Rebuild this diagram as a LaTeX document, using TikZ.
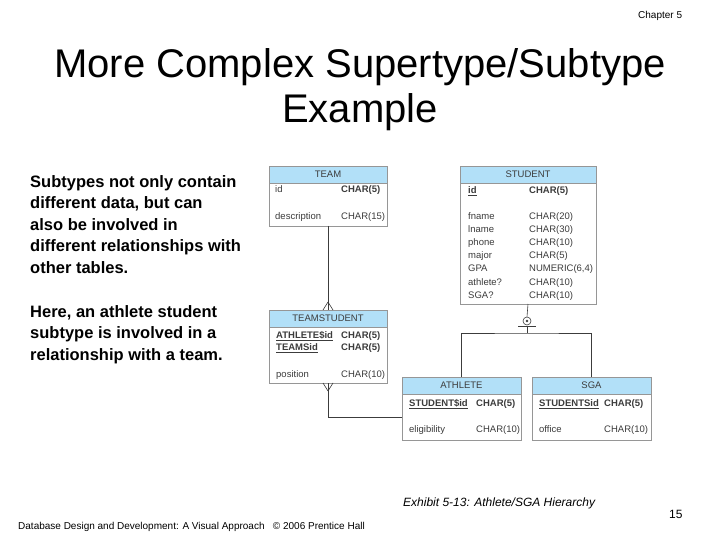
\documentclass[tikz,border=0pt]{standalone}
\usepackage{fontspec}
\setmainfont{Liberation Sans}
\usetikzlibrary{positioning}
\definecolor{hdblue}{RGB}{178,224,248}
\definecolor{edgegray}{RGB}{150,150,150}
\definecolor{txtgray}{RGB}{60,60,60}
\newcommand{\key}[1]{\underline{\textbf{#1}}}

\begin{document}
\begin{tikzpicture}[x=1pt,y=-1pt,
 thead/.style={draw=edgegray,fill=hdblue,anchor=north west,minimum height=17pt,
   inner sep=0pt,outer sep=0pt,text=txtgray,font=\fontsize{9.5}{11}\selectfont},
 tbody/.style={draw=edgegray,fill=white,inner sep=0pt,outer sep=0pt},
 fld/.style={anchor=west,inner sep=0pt,text height=7pt,text depth=2pt,text=txtgray,
   font=\fontsize{9.5}{11}\selectfont},
 link/.style={draw=txtgray,line width=0.6pt},
 para/.style={anchor=north west,inner sep=0pt,align=left,
   font=\fontsize{16.5}{21.5}\bfseries}]
\useasboundingbox (0,0) rectangle (720,540);

% heading and notes
\node[anchor=base west,inner sep=0pt,font=\fontsize{10}{12}\selectfont] (chap) at (638,19) {Chapter 5};
\node[anchor=north,inner sep=0pt,align=center,font=\fontsize{40}{45}\selectfont] (title) at (360,48)
 {More Complex Supertype/Subtype\\Example};
\node[para] (note1) at (30,175) {Subtypes not only contain\\different data, but can\\also be involved in\\
different relationships with\\other tables.};
\node[para] (note2) at (30,305) {Here, an athlete student\\subtype is involved in a\\relationship with a team.};

% tables
\node[thead,minimum width=118pt] (team) at (269,166) {TEAM};
\node[tbody,minimum width=118pt,minimum height=43pt,below=0pt of team] (teamb) {};
\node[fld] (team1) at (275,190) {id};
\node[fld] (team1t) at (341,190) {\textbf{CHAR(5)}};
\node[fld] (team2) at (275,217) {description};
\node[fld] (team2t) at (341,217) {CHAR(15)};

\node[thead,minimum width=136pt] (stud) at (460,166) {STUDENT};
\node[tbody,minimum width=136pt,minimum height=121pt,below=0pt of stud] (studb) {};
\node[fld] (stud1) at (468,191) {\key{id}};
\node[fld] (stud1t) at (529,191) {\textbf{CHAR(5)}};
\node[fld] (stud2) at (468,217) {fname};
\node[fld] (stud2t) at (529,217) {CHAR(20)};
\node[fld] (stud3) at (468,230) {lname};
\node[fld] (stud3t) at (529,230) {CHAR(30)};
\node[fld] (stud4) at (468,243) {phone};
\node[fld] (stud4t) at (529,243) {CHAR(10)};
\node[fld] (stud5) at (468,256) {major};
\node[fld] (stud5t) at (529,256) {CHAR(5)};
\node[fld] (stud6) at (468,269) {GPA};
\node[fld] (stud6t) at (529,269) {NUMERIC(6,4)};
\node[fld] (stud7) at (468,283) {athlete?};
\node[fld] (stud7t) at (529,283) {CHAR(10)};
\node[fld] (stud8) at (468,296) {SGA?};
\node[fld] (stud8t) at (529,296) {CHAR(10)};

\node[thead,minimum width=118pt] (tst) at (269,310) {TEAMSTUDENT};
\node[tbody,minimum width=118pt,minimum height=56pt,below=0pt of tst] (tstb) {};
\node[fld] (tst1) at (276,336) {\key{ATHLETE\$id}};
\node[fld] (tst1t) at (341,336) {\textbf{CHAR(5)}};
\node[fld] (tst2) at (276,348) {\key{TEAMSid}};
\node[fld] (tst2t) at (341,348) {\textbf{CHAR(5)}};
\node[fld] (tst3) at (276,375) {position};
\node[fld] (tst3t) at (341,375) {CHAR(10)};

\node[thead,minimum width=119pt] (ath) at (402,377) {ATHLETE};
\node[tbody,minimum width=119pt,minimum height=46pt,below=0pt of ath] (athb) {};
\node[fld] (ath1) at (409,404) {\key{STUDENT\$id}};
\node[fld] (ath1t) at (476,404) {\textbf{CHAR(5)}};
\node[fld] (ath2) at (409,430) {eligibility};
\node[fld] (ath2t) at (476,430) {CHAR(10)};

\node[thead,minimum width=119pt] (sga) at (532,377) {SGA};
\node[tbody,minimum width=119pt,minimum height=46pt,below=0pt of sga] (sgab) {};
\node[fld] (sga1) at (539,404) {\key{STUDENTSid}};
\node[fld] (sga1t) at (604,404) {\textbf{CHAR(5)}};
\node[fld] (sga2) at (539,430) {office};
\node[fld] (sga2t) at (604,430) {CHAR(10)};

% relationships
\draw[link] (teamb.south) -- (tst.north);
\draw[link] ([yshift=8pt]tst.north) -- ([xshift=-5pt]tst.north)
 ([yshift=8pt]tst.north) -- ([xshift=5pt]tst.north);
\draw[link] (tstb.south) |- (athb.west);
\draw[link] ([yshift=-8pt]tstb.south) -- ([xshift=-5pt]tstb.south)
 ([yshift=-8pt]tstb.south) -- ([xshift=5pt]tstb.south);

% subtype split
\node[draw=txtgray,circle,minimum size=8pt,inner sep=0pt,line width=0.6pt] (disc) at (527,321) {};
\fill[txtgray] (disc.center) circle (1.3pt);
\coordinate (split) at (527,333);
\draw[link] (studb.south) -- (disc.north);
\draw[link] ([xshift=-9pt,yshift=-5.5pt]disc.center) -- ([xshift=9pt,yshift=-5.5pt]disc.center);
\draw[link] ([yshift=-5.5pt]disc.center) -- (split);
\draw[link] (ath.north) |- (split) -| (sga.north);

% footer
\node[anchor=base west,inner sep=0pt,font=\fontsize{12}{14}\itshape] (cap) at (403,506)
 {Exhibit 5-13: Athlete/SGA Hierarchy};
\node[anchor=base west,inner sep=0pt,font=\fontsize{12}{14}\selectfont] (page) at (669,518) {15};
\node[anchor=base west,inner sep=0pt,font=\fontsize{10}{12}\selectfont] (foot) at (18,529)
 {Database Design and Development: A Visual Approach\ \ \ \textcopyright\ 2006 Prentice Hall};
\end{tikzpicture}
\end{document}
